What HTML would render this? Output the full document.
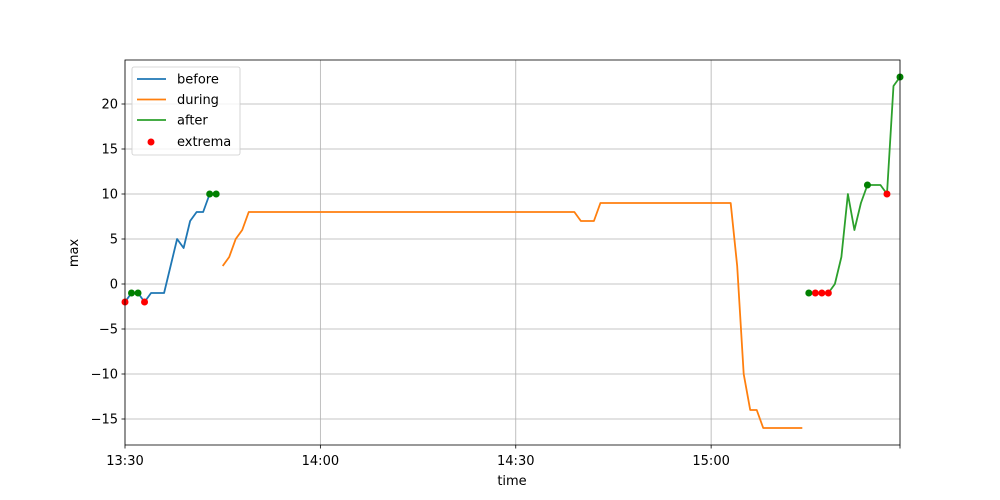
<!DOCTYPE html>
<html><head><meta charset="utf-8"><style>
body{margin:0;background:#fff}
svg{display:block;font-family:"DejaVu Sans","Liberation Sans",sans-serif}
</style></head><body>
<svg id="chart" width="1000" height="500" viewBox="0 0 1000 500"></svg>
<script>
const beforeMin=[0,1,2,3,4,5,6,7,8,9,10,11,12,13,14];
const beforeVal=[-2,-1,-1,-2,-1,-1,-1,2,5,4,7,8,8,10,10];
const duringMin=[15,16,17,18,19,69,70,71,72,73,93,94,95,96,97,98,104];
const duringVal=[2,3,5,6,8,8,7,7,7,9,9,2,-10,-14,-14,-16,-16];
const afterMin=[105,106,107,108,109,110,111,112,113,114,115,116,117,118,119];
const afterVal=[-1,-1,-1,-1,0,3,10,6,9,11,11,11,10,22,23];
const maxMin=[0,3,106,107,108,117];
const maxVal=[-2,-2,-1,-1,-1,10];
const minMin=[1,2,13,14,105,114,119];
const minVal=[-1,-1,10,10,-1,11,23];
const yTicks=[-15,-10,-5,0,5,10,15,20];
const xTickMin=[0,30,60,90,119];
const xTickLabels=["13:30","14:00","14:30","15:00",""];

const L=125,R=900,T=60,B=445;
const X=m=>L+m*(R-L)/119;
const Y=v=>284-v*9;
const NS="http://www.w3.org/2000/svg";
const svg=document.getElementById('chart');
function mk(tag,attrs,parent){const e=document.createElementNS(NS,tag);for(const k in attrs)e.setAttribute(k,attrs[k]);(parent||svg).appendChild(e);return e;}

const grid=mk('g',{});


yTicks.forEach(v=>{
  mk('line',{x1:L,x2:R,y1:Y(v),y2:Y(v),stroke:'#b0b0b0','stroke-width':0.8},grid);
  mk('line',{x1:L-3.5,x2:L,y1:Y(v),y2:Y(v),stroke:'#000','stroke-width':0.8});
  const t=mk('text',{x:L-7,y:Y(v)+4.5,'text-anchor':'end','font-size':13,fill:'#000'});
  t.textContent=String(v).replace('-','\u2212');
  
  
});
xTickMin.forEach((m,i)=>{
  mk('line',{x1:X(m),x2:X(m),y1:T,y2:B,stroke:'#b0b0b0','stroke-width':0.8},grid);
  mk('line',{x1:X(m),x2:X(m),y1:B,y2:B+3.5,stroke:'#000','stroke-width':0.8});
  const t=mk('text',{x:X(m),y:B+20,'text-anchor':'middle','font-size':13,fill:'#000'});
  t.textContent=xTickLabels[i];
  
  
});
function line(ms,vs,color,name){
  const p=mk('polyline',{points:ms.map((m,i)=>X(m)+','+Y(vs[i])).join(' '),fill:'none',stroke:color,'stroke-width':1.8,'stroke-linejoin':'round'});
  
  
}
line(beforeMin,beforeVal,'#1f77b4','before-line');
line(duringMin,duringVal,'#ff7f0e','during-line');
line(afterMin,afterVal,'#2ca02c','after-line');
maxMin.forEach((m,i)=>{
  const c=mk('circle',{cx:X(m),cy:Y(maxVal[i]),r:3.5,fill:'red'});
  
  
});
minMin.forEach((m,i)=>{
  const c=mk('circle',{cx:X(m),cy:Y(minVal[i]),r:3.5,fill:'green'});
  
  
});
const frame=mk('rect',{x:L,y:T,width:R-L,height:B-T,fill:'none',stroke:'#000','stroke-width':0.8});


const xt=mk('text',{x:512,y:485,'text-anchor':'middle','font-size':13});
xt.textContent='time';


const yt=mk('text',{x:0,y:0,'text-anchor':'middle','font-size':13,transform:'translate(78,253) rotate(-90)'});
yt.textContent='max';



const lg=mk('g',{});


mk('rect',{x:132,y:67,width:108,height:88,rx:2,fill:'#fff','fill-opacity':0.8,stroke:'#ccc','stroke-width':0.8},lg);
const entries=[['before','#1f77b4'],['during','#ff7f0e'],['after','#2ca02c']];
entries.forEach((e,i)=>{
  const y=79+i*20.5;
  const l=mk('line',{x1:137,x2:166,y1:y,y2:y,stroke:e[1],'stroke-width':1.8},lg);
  
  
  const t=mk('text',{x:177,y:y+4.5,'font-size':13},lg);
  t.textContent=e[0];
  
  
});
mk('circle',{cx:151,cy:142,r:3.5,fill:'red'},lg);
const te=mk('text',{x:177,y:146,'font-size':13},lg);
te.textContent='extrema';


</script>
</body></html>
